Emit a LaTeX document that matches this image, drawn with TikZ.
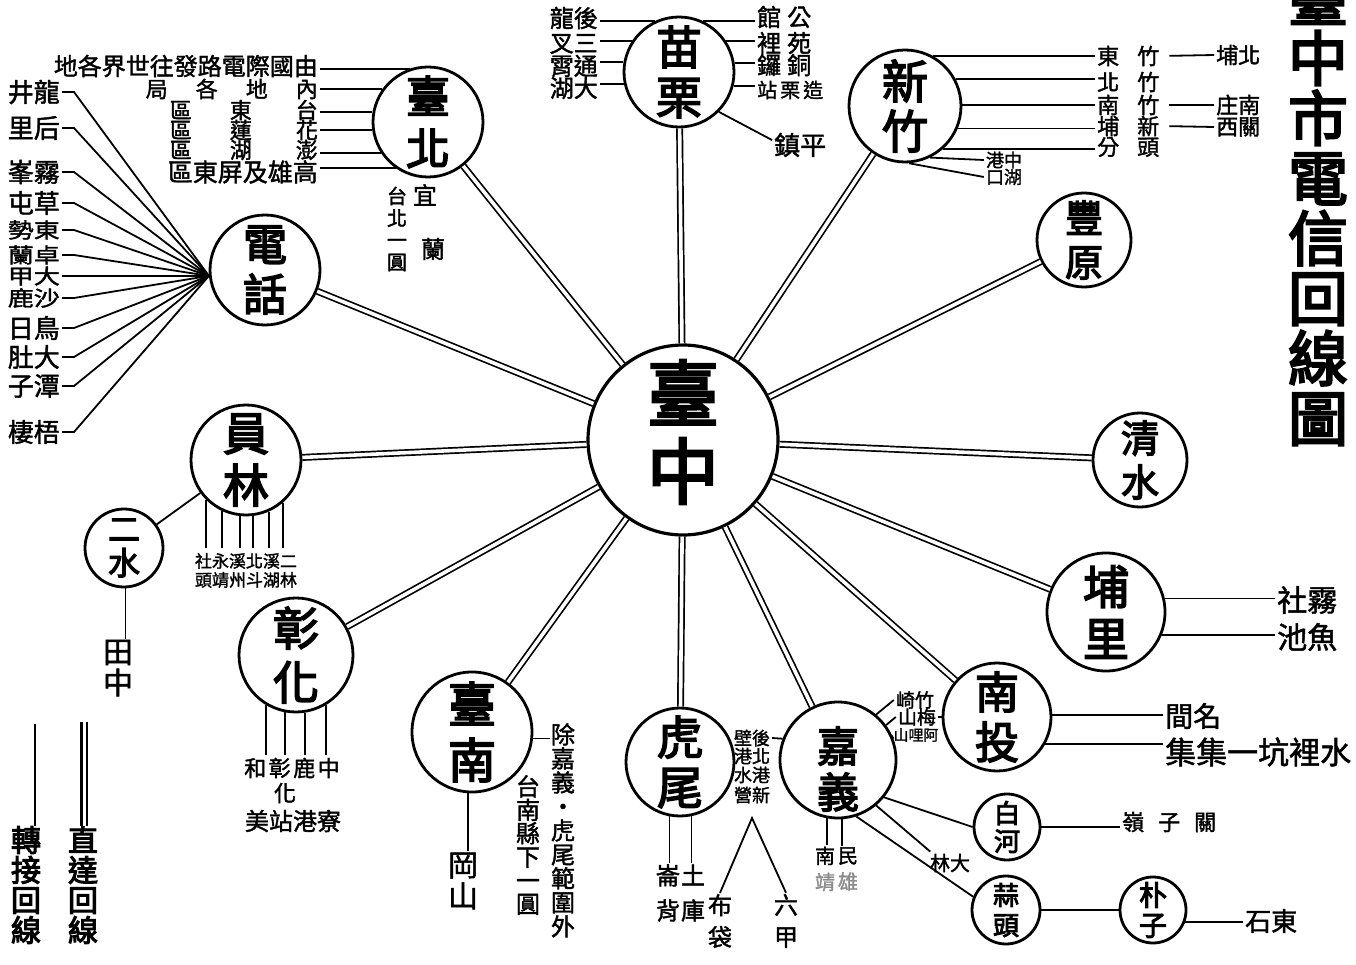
\documentclass[tikz,border=0pt]{standalone}
\usepackage{fontspec}
\newfontfamily\cj{Noto Sans CJK TC}[FakeBold=1.6]
\newfontfamily\cjb{Noto Sans CJK TC}[FakeBold=3.5]
\tikzset{
  stn/.style={circle, draw, line width=2.8pt, inner sep=0pt},
  big/.style 2 args={font=\cjb\fontsize{#1}{#2}\selectfont, align=center, inner sep=0pt},
  tx/.style={font=\cj\fontsize{#1}{#1}\selectfont, inner sep=2pt},
  vt/.style 2 args={font=\cj\fontsize{#1}{#2}\selectfont, align=center, inner sep=1pt},
  direct/.style={double, double distance=3.6pt, line width=1.7pt},
  ln/.style={line width=1.8pt},
}
\begin{document}
\begin{tikzpicture}[x=1pt,y=-1pt]
\fill[white] (0,0) rectangle (1356,965);
\useasboundingbox (0,0) rectangle (1356,965);

% ---------- stations ----------
\node[stn, minimum size=190pt, line width=3.2pt, label={[big={72}{78}, yshift=8pt]center:臺\\中}] (tz) at (683,440) {};
\node[stn, minimum size=110pt, label={[big={44}{52}]center:臺\\北}] (tb) at (428,122) {};
\node[stn, minimum size=110pt, label={[big={46}{50}]center:苗\\栗}] (ml) at (679,72) {};
\node[stn, minimum size=112pt, label={[big={46}{50}]center:新\\竹}] (xz) at (905,106) {};
\node[stn, minimum size=94pt, label={[big={38}{44}]center:豐\\原}] (fy) at (1084,240) {};
\node[stn, minimum size=94pt, label={[big={38}{44}]center:清\\水}] (qs) at (1140,460) {};
\node[stn, minimum size=118pt, label={[big={46}{52}]center:埔\\里}] (pl) at (1106,612) {};
\node[stn, minimum size=108pt, label={[big={44}{50}]center:南\\投}] (nt) at (997,717) {};
\node[stn, minimum size=116pt, label={[big={42}{46}, yshift=-9pt]center:嘉\\義}] (jy) at (838,760) {};
\node[stn, minimum size=66pt, label={[big={26}{28}]center:白\\河}] (bh) at (1007,827) {};
\node[stn, minimum size=68pt, label={[big={26}{30}]center:蒜\\頭}] (st) at (1006,910) {};
\node[stn, minimum size=66pt, label={[big={28}{30}]center:朴\\子}] (pz) at (1153,910) {};
\node[stn, minimum size=108pt, label={[big={46}{50}]center:虎\\尾}] (hw) at (680,762) {};
\node[stn, minimum size=120pt, label={[big={48}{56}]center:臺\\南}] (tn) at (472,732) {};
\node[stn, minimum size=114pt, label={[big={46}{54}]center:彰\\化}] (zh) at (296,655) {};
\node[stn, minimum size=78pt, label={[big={32}{34}]center:二\\水}] (es) at (124,548) {};
\node[stn, minimum size=110pt, label={[big={46}{52}]center:員\\林}] (yl) at (246,460) {};
\node[stn, minimum size=110pt, label={[big={44}{50}]center:電\\話}] (dh) at (265,270) {};

% ---------- direct circuits ----------
\foreach \n in {tb,ml,xz,fy,qs,pl,nt,jy,hw,tn,zh,yl,dh}
  \draw[direct] (tz) -- (\n);

% ---------- title ----------
\node[big={60}{60}] (title) at (1318,208) {臺\\中\\市\\電\\信\\回\\線\\圖};

% ---------- Taipei ----------
\node[tx=24, anchor=east] (tb1) at (320,66) {地各界世往發路電際國由};
\node[tx=22, anchor=east] (tb2) at (320,89) {局\hspace{28pt}各\hspace{28pt}地\hspace{28pt}內};
\node[tx=22, anchor=east] (tb3) at (320,110) {區\hspace{38pt}東\hspace{44pt}台};
\node[tx=22, anchor=east] (tb4) at (320,130) {區\hspace{38pt}蓮\hspace{44pt}花};
\node[tx=22, anchor=east] (tb5) at (320,150) {區\hspace{38pt}湖\hspace{44pt}澎};
\node[tx=25, anchor=east] (tb6) at (320,172) {區東屏及雄高};
\draw[ln] (tb.109) -- (tb.109 -| tb1.east);
\draw[ln] (tb.144) -- (tb.144 -| tb2.east);
\draw[ln] (tb.170) -- (tb.170 -| tb3.east);
\draw[ln] (tb.188) -- (tb.188 -| tb4.east);
\draw[ln] (tb.213) -- (tb.213 -| tb5.east);
\draw[ln] (tb.235) -- (tb.235 -| tb6.east);
\node[tx=24] (yi) at (425,195) {宜};
\node[tx=24] (lan) at (433,249) {蘭};
\node[vt={20}{22}] (tbq) at (397,229) {台\\北\\一\\圓};

% ---------- telephone fan ----------
\coordinate (fan) at (dh.186);
\foreach \t/\y/\n in {井龍/92/1, 里后/128/2, 峯霧/172/3, 屯草/203/4, 日鳥/328/9, 肚大/357/10, 子潭/386/11, 棲梧/432/12}{
  \node[tx=26, anchor=east] (f\n) at (62,\y) {\t};
  \draw[ln] (f\n.east) -- ++(12,0) -- (fan);
}
\foreach \t/\y/\n in {勢東/230/5, 蘭卓/255/6, 甲大/276/7, 鹿沙/298/8}{
  \node[tx=26, anchor=east] (f\n) at (62,\y) {\scalebox{1}[0.8]{\t}};
  \draw[ln] (f\n.east) -- ++(12,0) -- (fan);
}

% ---------- Miaoli ----------
\node[tx=24, anchor=east] (ml1) at (600,18) {龍後};
\node[tx=24, anchor=east] (ml2) at (600,44) {叉三};
\node[tx=24, anchor=east] (ml3) at (600,66) {霄通};
\node[tx=24, anchor=east] (ml4) at (600,88) {湖大};
\draw[ln] (ml.115) -- (ml.115 -| ml1.east);
\draw[ln] (ml.147) -- (ml.147 -| ml2.east);
\draw[ln] (ml.170) -- (ml.170 -| ml3.east);
\draw[ln] (ml.192) -- (ml.192 -| ml4.east);
\node[tx=24, anchor=west] (mr1) at (755,17) {館\hspace{6pt}公};
\node[tx=24, anchor=west] (mr2) at (755,43) {裡\hspace{6pt}苑};
\node[tx=24, anchor=west] (mr3) at (755,65) {鑼\hspace{6pt}銅};
\node[tx=20, anchor=west] (mr4) at (755,90) {站\hspace{3pt}栗\hspace{3pt}造};
\draw[ln] (ml.65) -- (ml.65 -| mr1.west);
\draw[ln] (ml.33) -- (ml.33 -| mr2.west);
\draw[ln] (ml.9) -- (ml.9 -| mr3.west);
\draw[ln] (ml.-14) -- (ml.-14 -| mr4.west);
\node[tx=26, anchor=west] (pj) at (772,145) {鎮平};
\draw[ln] (ml.-45) -- (pj.170);

% ---------- Hsinchu ----------
\node[tx=22, anchor=west] (x1) at (1095,56) {東\hspace{18pt}竹};
\node[tx=22, anchor=west] (x2) at (1095,82) {北\hspace{18pt}竹};
\node[tx=22, anchor=west] (x3) at (1095,105) {南\hspace{18pt}竹};
\node[tx=22, anchor=west] (x4) at (1095,126) {埔\hspace{18pt}新};
\node[tx=22, anchor=west] (x5) at (1095,147) {分\hspace{18pt}頭};
\draw[ln] (xz.61) -- (xz.61 -| x1.west);
\draw[ln] (xz.28) -- (xz.28 -| x2.west);
\draw[ln] (xz.1) -- (xz.1 -| x3.west);
\draw[ln] (xz.-23) -- (xz.-23 -| x4.west);
\draw[ln] (xz.-49) -- (xz.-49 -| x5.west);
\node[tx=22, anchor=west] (pb) at (1214,55) {埔北};
\node[tx=22, anchor=west] (nz) at (1214,105) {庄南};
\node[tx=22, anchor=west] (gx) at (1214,127) {西關};
\draw[ln, shorten <=8pt] (x1.east) -- (pb.west);
\draw[ln, shorten <=8pt] (x3.east) -- (nz.west);
\draw[ln, shorten <=8pt] (x4.east) -- (gx.west);
\node[tx=18] (hk1) at (1004,160) {港中};
\node[tx=18] (hk2) at (1004,177) {口湖};
\draw[ln] (xz.-64) -- (hk1.west);
\draw[ln] (xz.-86) -- (hk2.west);

% ---------- Puli ----------
\node[tx=30, anchor=west] (ws) at (1275,600) {社霧};
\node[tx=30, anchor=west] (yc) at (1275,637) {池魚};
\draw[ln] (pl.13) -- (pl.13 -| ws.west);
\draw[ln] (pl.-22) -- (pl.-22 -| yc.west);

% ---------- Nantou ----------
\node[tx=28, anchor=west] (mj) at (1163,716) {間名};
\node[tx=31, anchor=west] (sl) at (1163,752) {集集一坑裡水};
\draw[ln] (nt.2) -- (nt.2 -| mj.west);
\draw[ln] (nt.-29) -- (nt.-29 -| sl.west);

% ---------- Chiayi ----------
\node[tx=19] (zq) at (915,700) {崎竹};
\node[tx=19] (ms) at (917,717) {山梅};
\node[tx=15] (al) at (916,735) {山哩阿};
\draw[ln] (jy.50) -- (zq.west);
\draw[ln] (jy.36) -- (ms.west);
\draw[ln] (jy.21) -- (al.west);
\draw[ln] (ms.east) -- (nt.west);
\node[tx=18] (jl1) at (752,738) {壁後};
\node[tx=18] (jl2) at (752,756) {港北};
\node[tx=18] (jl3) at (752,775) {水港};
\node[tx=18] (jl4) at (752,795) {營新};
\draw[ln] (jl1.east) -- (jy.159);
\coordinate (apex) at (752,818);
\node[vt={24}{32}] (bd) at (720,921) {布\\袋};
\node[vt={24}{32}] (lj) at (786,921) {六\\甲};
\draw[ln] (bd.north) -- (apex) -- (lj.north);
\node[vt={20}{26}] (nj) at (825,869) {南\\{\color{black!45}靖}};
\node[vt={20}{26}] (mx) at (848,869) {民\\{\color{black!45}雄}};
\draw[ln] (jy.259) -- (jy.259 |- nj.north);
\draw[ln] (jy.274) -- (jy.274 |- mx.north);
\node[tx=20] (dl) at (950,863) {林大};
\draw[ln] (jy.-50) -- (dl.150);
\draw[ln] (jy.-39) -- (bh.west);
\draw[ln] (jy.-72) -- (st.158);
\node[tx=22, anchor=west] (gzl) at (1120,822) {嶺\hspace{14pt}子\hspace{14pt}關};
\draw[ln] (bh.east) -- (bh.east -| gzl.west);
\draw[ln] (st) -- (pz);
\node[tx=26, anchor=west] (sd) at (1243,921) {石東};
\draw[ln] (pz.-20) -- (pz.-20 -| sd.west);

% ---------- Huwei ----------
\node[vt={24}{35}] (lb) at (668,893) {崙\\背};
\node[vt={24}{35}] (tk) at (693,893) {土\\庫};
\draw[ln] (hw.259) -- (hw.259 |- lb.north);
\draw[ln] (hw.282) -- (hw.282 |- tk.north);

% ---------- Tainan ----------
\node[vt={30}{31}] (gs) at (463,881) {岡\\山};
\draw[ln] (tn.266) -- (tn.266 |- gs.north);
\node[vt={24}{24}, anchor=north] (cy) at (563,722) {除\\嘉\\義\\・\\虎\\尾\\範\\圍\\外};
\node[vt={24}{23.5}, anchor=north] (tnx) at (528,774) {台\\南\\縣\\下\\一\\圓};
\draw[ln] (tn.-6) -- (tn.-6 -| cy.west);

% ---------- Changhua ----------
\coordinate (zhb) at (0,755);
\foreach \a in {239,259,279,301} \draw[ln] (zh.\a) -- (zh.\a |- zhb);
\node[tx=22] (zr1) at (292,768) {和\hspace{2.5pt}彰\hspace{2.5pt}鹿\hspace{2.5pt}中};
\node[tx=22] (zr2) at (285,793) {化};
\node[tx=24] (zr3) at (293,821) {美站港寮};

% ---------- Yuanlin ----------
\coordinate (ylb) at (0,548);
\foreach \a in {225,245,264,277,294,311} \draw[ln] (yl.\a) -- (yl.\a |- ylb);
\node[tx=17] (yr1) at (246,561) {社永溪北溪二};
\node[tx=17] (yr2) at (246,580) {頭靖州斗湖林};
\draw[ln] (yl) -- (es);
\node[vt={30}{31}] (tzh) at (118,668) {田\\中};
\draw[ln] (es.272) -- (es.272 |- tzh.north);

% ---------- legend ----------
\node[big={30}{30}] (lgz) at (26,885) {轉\\接\\回\\線};
\node[big={30}{30}] (lgd) at (83,885) {直\\達\\回\\線};
\coordinate (lgza) at (35,724);
\coordinate (lgda) at (84,722);
\draw[line width=2.4pt] (lgza) -- (lgza |- lgz.north);
\draw[double, double distance=3pt, line width=2.2pt] (lgda) -- (lgda |- lgd.north);
\end{tikzpicture}
\end{document}
